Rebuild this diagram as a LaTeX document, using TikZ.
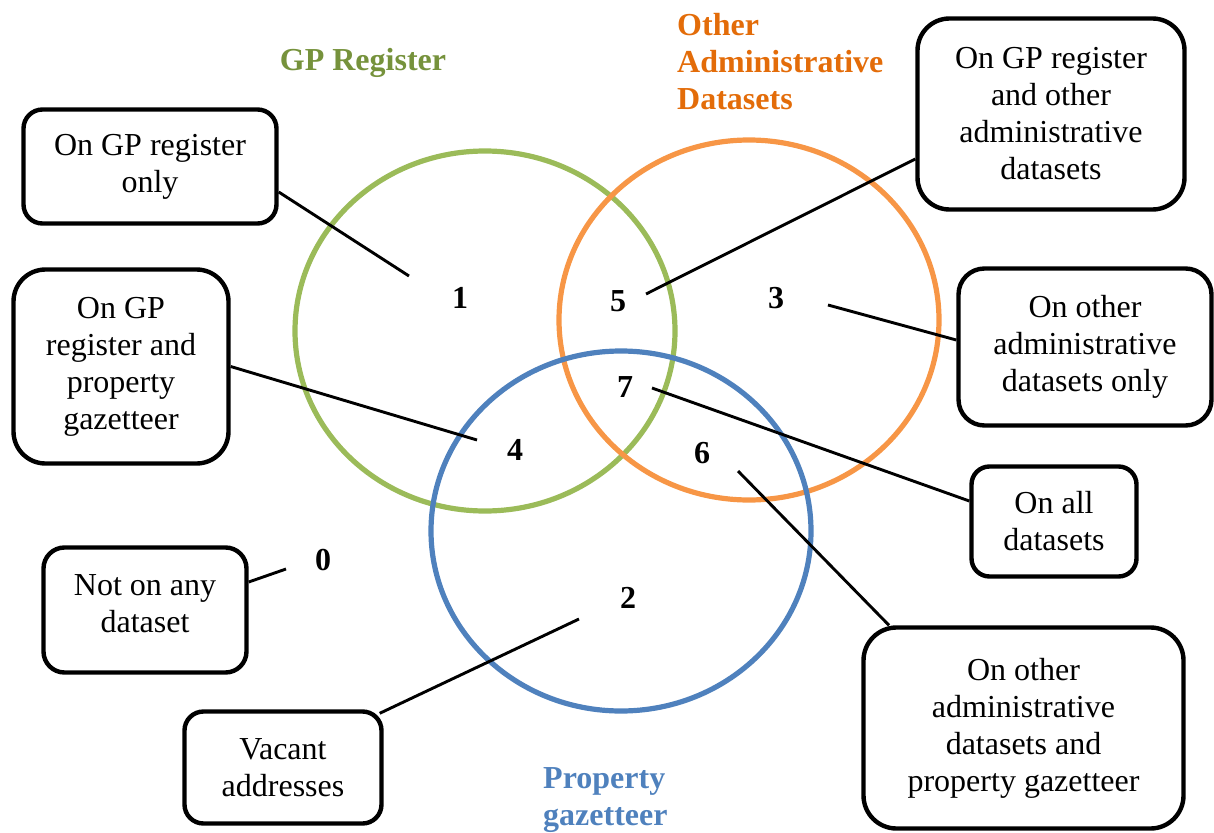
\documentclass[tikz,border=0pt]{standalone}
\usepackage{fontspec}
\setmainfont{Liberation Serif}
\usetikzlibrary{shapes.geometric,calc}

\definecolor{ringgreen}{HTML}{9BBB59}
\definecolor{ringorange}{HTML}{F79646}
\definecolor{ringblue}{HTML}{4F81BD}
\definecolor{titlegreen}{HTML}{76923C}
\definecolor{titleorange}{HTML}{E36C09}
\definecolor{titleblue}{HTML}{4F81BD}

\begin{document}
\begin{tikzpicture}[x=1pt,y=-1pt,
  every node/.style={font=\fontsize{32}{37}\selectfont},
  setring/.style={draw=#1, line width=5.2pt, ellipse, minimum width=380pt,
    minimum height=360pt, inner sep=0pt},
  infobox/.style={draw=black, line width=4.4pt, rectangle, rounded corners=#1,
    fill=white, align=center, inner sep=0pt},
  boxtext/.style={align=center, inner sep=0pt},
  region/.style={font=\fontsize{32}{37}\selectfont\bfseries, inner sep=0pt},
  leader/.style={draw=black, line width=2.9pt}
]
\useasboundingbox (0,0) rectangle (1214,832);

% the three sets
\node[setring=ringgreen]  (gp)    at (485,331) {};
\node[setring=ringorange] (admin) at (749,320) {};
\node[setring=ringblue]   (prop)  at (621,531) {};

% set titles
\node[region, text=titlegreen, anchor=base] (tgp) at (363,71) {GP Register};
\node[region, text=titleorange, anchor=north west, align=left] (tadmin) at (677,13)
  {Other\\Administrative\\Datasets};
\node[region, text=titleblue, anchor=north west, align=left] (tprop) at (543,767)
  {Property\\gazetteer};

% region numbers
\node[region] (n0) at (323,560) {0};
\node[region] (n1) at (460,298) {1};
\node[region] (n2) at (628,598) {2};
\node[region] (n3) at (776,298) {3};
\node[region] (n4) at (515,450) {4};
\node[region] (n5) at (618,301) {5};
\node[region] (n6) at (702,453) {6};
\node[region] (n7) at (625,387) {7};

% description boxes
\node[infobox=19pt, minimum width=253pt, minimum height=114pt] (b1) at (150,166.5)
  {On GP register\\only};
\node[infobox=32pt, minimum width=215pt, minimum height=194pt] (b4) at (121,366.5)
  {On GP\\register and\\property\\gazetteer};
\node[infobox=32pt, minimum width=267pt, minimum height=191pt] (b5) at (1051,114)
  {On GP register\\and other\\administrative\\datasets};
\node[infobox=26pt, minimum width=253pt, minimum height=157pt] (b3) at (1085,347)
  {On other\\administrative\\datasets only};
\node[infobox=18pt, minimum width=165pt, minimum height=110pt] (b7) at (1054,521.5)
  {On all\\datasets};
\node[infobox=33pt, minimum width=320pt, minimum height=201pt] (b6) at (1023.5,728)
  {On other\\administrative\\datasets and\\property gazetteer};
\node[infobox=21pt, minimum width=203pt, minimum height=125pt] (b0) at (145,610) {};
\node[boxtext] (b0text) at (145,604) {Not on any\\dataset};
\node[infobox=19pt, minimum width=197pt, minimum height=112pt] (b2) at (283,767.5)
  {Vacant\\addresses};

% inner ends of the leader lines
\coordinate (p0) at (286,569);
\coordinate (p1) at (409,276);
\coordinate (p2) at (579,619);
\coordinate (p3) at (828,305);
\coordinate (p4) at (477,440);
\coordinate (p5) at (646,294);
\coordinate (p6) at (738,471);
\coordinate (p7) at (652,388);

% leader lines
\draw[leader] (p1) -- ([yshift=-25.5pt]b1.east);
\draw[leader] (p4) -- (b4.east);
\draw[leader] (p5) -- ([yshift=-45pt]b5.west);
\draw[leader] (p3) -- ([yshift=7pt]b3.west);
\draw[leader] (p7) -- ([yshift=20.5pt]b7.west);
\draw[leader] (p6) -- ([xshift=-134.5pt]b6.north);
\draw[leader] (p2) -- ([xshift=-4pt,yshift=-4pt]b2.north east);
\draw[leader] (p0) -- ([yshift=28pt]b0.east);
\end{tikzpicture}
\end{document}
